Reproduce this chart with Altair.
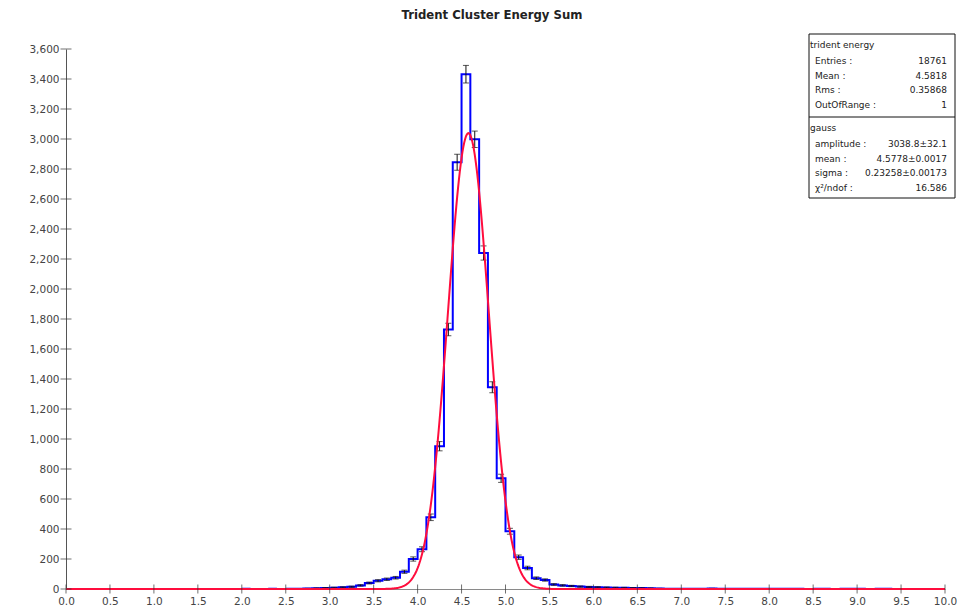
import altair as alt
import pandas as pd

# ---------------- data ----------------
title_text = "Trident Cluster Energy Sum"
bin_start = 2.0
bin_width = 0.1
# counts per 0.1-wide bin, first bin starts at 2.0
counts = [
    1, 0, 0, 1, 0, 2, 2, 3, 5, 7,             # 2.0 - 2.9
    9, 11, 15, 24, 40, 55, 65, 75, 115, 200,  # 3.0 - 3.9
    265, 478, 952, 1730, 2845, 3432, 2998, 2240, 1345, 738,  # 4.0 - 4.9
    385, 212, 140, 72, 60, 30, 24, 20, 16, 14,  # 5.0 - 5.9
    12, 10, 9, 8, 7, 6, 5, 3, 2, 2,           # 6.0 - 6.9
    2, 1, 2, 3, 1, 1, 1, 1, 1, 1,             # 7.0 - 7.9
    1, 1, 1, 1, 0, 1, 1, 0, 1, 1,             # 8.0 - 8.9
    1, 0, 1, 1,                               # 9.0 - 9.3
]
fit_amplitude = 3038.8
fit_mean = 4.5778
fit_sigma = 0.23258

x_tick_values = [i * 0.5 for i in range(21)]
y_tick_values = list(range(0, 3601, 200))

stats_header = "trident energy"
stats_labels = ["Entries :", "Mean :", "Rms :", "OutOfRange :"]
stats_values = ["18761", "4.5818", "0.35868", "1"]
fit_header = "gauss"
fit_labels = ["amplitude :", "mean :", "sigma :", "χ²/ndof :"]
fit_values = ["3038.8±32.1", "4.5778±0.0017", "0.23258±0.00173", "16.586"]

# ---------------- tables built from the arrays ----------------
lows = [round(bin_start + i * bin_width, 1) for i in range(len(counts))]

step_rows = []
k = 0
for lo, c in zip(lows, counts):
    if c > 0:
        step_rows.append({"x": lo, "y": c, "o": k}); k += 1
        step_rows.append({"x": round(lo + bin_width, 1), "y": c, "o": k}); k += 1
    else:
        step_rows.append({"x": lo, "y": None, "o": k}); k += 1
step_df = pd.DataFrame(step_rows)

err_df = pd.DataFrame({"x": [round(lo + bin_width / 2, 2) for lo in lows],
                       "c": counts})
err_df = err_df[err_df["c"] > 0]

W, H = 879, 540
FONT = "DejaVu Sans"

xscale = alt.Scale(domain=[0, 10], nice=False, zero=False)
yscale = alt.Scale(domain=[0, 3600], nice=False)
xaxis = alt.Axis(values=x_tick_values, format=".1f", title=None, ticks=False,
                 grid=False, labelFlush=False, labelOverlap=False,
                 labelFont=FONT, labelFontSize=10.5, labelColor="#444",
                 labelPadding=7, domainColor="#8a8a8a", domainWidth=1)
yaxis = alt.Axis(values=y_tick_values, format=",d", title=None, ticks=False,
                 grid=False, labelOverlap=False,
                 labelFont=FONT, labelFontSize=10.5, labelColor="#444",
                 labelPadding=7, domainColor="#555", domainWidth=1)


def X(field="x"):
    return alt.X(f"{field}:Q", scale=xscale, axis=xaxis)


def Y(field="y"):
    return alt.Y(f"{field}:Q", scale=yscale, axis=yaxis)


hist = alt.Chart(step_df).mark_line(color="#0000ff", strokeWidth=2,
                                    interpolate="linear").encode(
    x=X(), y=Y(), order="o:Q")

err_base = alt.Chart(err_df).transform_calculate(
    ylo="datum.c - sqrt(datum.c)", yhi="datum.c + sqrt(datum.c)")
err_rule = err_base.mark_rule(color="#111", strokeWidth=1).encode(
    x=X(), y=Y("ylo"), y2="yhi:Q")
err_cap_lo = err_base.mark_tick(color="#111", orient="horizontal", size=6,
                                thickness=1).encode(x=X(), y=Y("ylo"))
err_cap_hi = err_base.mark_tick(color="#111", orient="horizontal", size=6,
                                thickness=1).encode(x=X(), y=Y("yhi"))

gauss = alt.Chart(alt.sequence(0, 10.001, 0.01, as_="x")).transform_calculate(
    y=f"{fit_amplitude}*exp(-0.5*pow((datum.x-{fit_mean})/{fit_sigma},2))"
).mark_line(color="#ff0d3d", strokeWidth=2).encode(x=X(), y=Y())

# cross-ticks on the axes
xt = alt.Chart(pd.DataFrame({"x": x_tick_values})).mark_tick(
    color="#333", orient="vertical", size=9, thickness=1).encode(
    x=X(), y=alt.value(H))
yt = alt.Chart(pd.DataFrame({"y": y_tick_values})).mark_tick(
    color="#333", orient="horizontal", size=11, thickness=1).encode(
    y=Y(), x=alt.value(0))

one = pd.DataFrame({"a": [0]})

# chart title (as a text mark so it sits exactly where the reference has it)
title_mark = alt.Chart(one).mark_text(
    text=title_text, font=FONT, fontSize=11.7, fontWeight="bold", color="#222",
    align="center", baseline="middle").encode(x=alt.value(426), y=alt.value(-34))

# statistics box
BX0, BX1, BY0, BY1, SEP = 743, 889, -15, 149, 68
box = alt.Chart(one).mark_rect(fill="white", stroke="#111", strokeWidth=1).encode(
    x=alt.value(BX0), x2=alt.value(BX1), y=alt.value(BY0), y2=alt.value(BY1))
sep = alt.Chart(one).mark_rule(color="#111", strokeWidth=1).encode(
    x=alt.value(BX0), x2=alt.value(BX1), y=alt.value(SEP))

txt = dict(font=FONT, fontSize=9, color="#222", baseline="top", lineHeight=14.5)
h1 = alt.Chart(one).mark_text(align="left", text=stats_header, **txt).encode(
    x=alt.value(BX0 + 1), y=alt.value(-8))
l1 = alt.Chart(one).mark_text(align="left", text=stats_labels, **txt).encode(
    x=alt.value(BX0 + 6), y=alt.value(8))
v1 = alt.Chart(one).mark_text(align="right", text=stats_values, **txt).encode(
    x=alt.value(BX1 - 8), y=alt.value(8))
h2 = alt.Chart(one).mark_text(align="left", text=fit_header, **txt).encode(
    x=alt.value(BX0 + 1), y=alt.value(75))
l2 = alt.Chart(one).mark_text(align="left", text=fit_labels, **txt).encode(
    x=alt.value(BX0 + 6), y=alt.value(91))
v2 = alt.Chart(one).mark_text(align="right", text=fit_values, **txt).encode(
    x=alt.value(BX1 - 8), y=alt.value(91))

chart = alt.layer(
    hist, err_rule, err_cap_lo, err_cap_hi, gauss, xt, yt,
    box, sep, h1, l1, v1, h2, l2, v2, title_mark
).properties(
    width=W, height=H,
    background="white",
    autosize=alt.AutoSizeParams(type="none"),
    padding={"left": 66, "top": 49, "right": 12, "bottom": 22},
).configure_view(strokeWidth=0, stroke="transparent")

chart.save("out.html", embed_options={"renderer": "svg", "actions": False})
